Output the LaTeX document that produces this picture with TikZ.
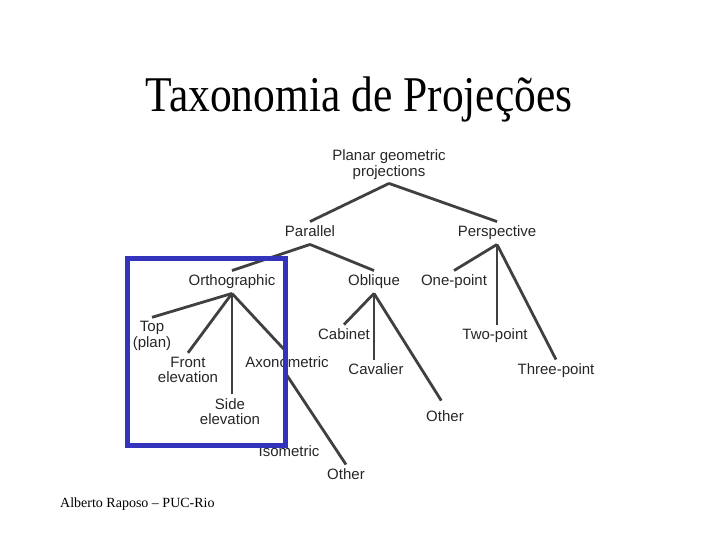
\documentclass[tikz,border=0pt]{standalone}
\usepackage{fontspec}
\setmainfont{Liberation Serif}
\setsansfont{Liberation Sans}
\usepackage{xcolor}
\usetikzlibrary{positioning}
\definecolor{treegray}{HTML}{404040}
\definecolor{boxblue}{RGB}{51,51,187}
\newcommand{\lbl}{\sffamily\fontsize{15}{15.5}\selectfont}

\begin{document}
\begin{tikzpicture}[x=1pt, y=-1pt,
      lab/.style={align=center, inner sep=4pt, font=\lbl, text=black!85},
      lab1/.style={lab, text height=11pt, text depth=3.5pt},
      br/.style={draw=treegray, line width=2.8pt},
      frame/.style={draw=boxblue, line width=5pt}
    ]
    \useasboundingbox (0,0) rectangle (720,540);

    % title and footer
    \node[anchor=base, font=\fontsize{50}{56}\selectfont] (title) at (359,112)
      {\scalebox{0.87}[1]{Taxonomia de Projeções}};
    \node[anchor=base west, font=\fontsize{14}{16}\selectfont, inner sep=0pt] (foot) at (60,507)
      {Alberto Raposo -- PUC-Rio};

    % tree labels
    \node[lab] (planar) at (389,164.5) {Planar geometric\\projections};
    \node[lab1] (parallel) at (310,233) {Parallel};
    \node[lab1] (persp) at (497,233) {Perspective};
    \node[lab1] (ortho) at (232,282) {Orthographic};
    \node[lab1] (oblique) at (374,282) {Oblique};
    \node[lab1] (onept) at (454,282) {One-point};
    \node[lab] (top) at (152,336) {Top\\(plan)};
    \node[lab] (front) at (188,370) {Front\\elevation};
    \node[lab1] (axono) at (287,364) {Axonometric};
    \node[lab] (side) at (230,411.5) {Side\\elevation};
    \node[lab1] (iso) at (289,453) {Isometric};
    \node[lab1] (other1) at (346,476) {Other};
    \node[lab1] (cabinet) at (344,336) {Cabinet};
    \node[lab1] (cavalier) at (376,371) {Cavalier};
    \node[lab1] (other2) at (445,418) {Other};
    \node[lab1] (twopt) at (495,336) {Two-point};
    \node[lab1] (threept) at (556,371) {Three-point};

    % branches
    \draw[br] (planar.south) -- (parallel.north);
    \draw[br] (planar.south) -- (persp.north);
    \draw[br] (parallel.south) -- (ortho.north);
    \draw[br] (parallel.south) -- (oblique.north);
    \draw[br] (persp.south) -- (onept.north);
    \draw[br] (persp.south) -- (persp.south |- twopt.north);
    \draw[br] (persp.south) -- (threept.north);
    \draw[br] (ortho.south) -- (top.north);
    \draw[br] (ortho.south) -- (front.north);
    \draw[br] (ortho.south) -- (ortho.south |- side.north);
    \draw[br] (ortho.south) -- (axono.north);
    \draw[br] (axono.south) -- (other1.north);
    \draw[br] (oblique.south) -- (cabinet.north);
    \draw[br] (oblique.south) -- (oblique.south |- cavalier.north);
    \draw[br, shorten >=7pt] (oblique.south) -- (other2.north);

    % orthographic frame
    \draw[frame] (127.5,258.5) rectangle (285.5,445.5);
  \end{tikzpicture}
\end{document}
